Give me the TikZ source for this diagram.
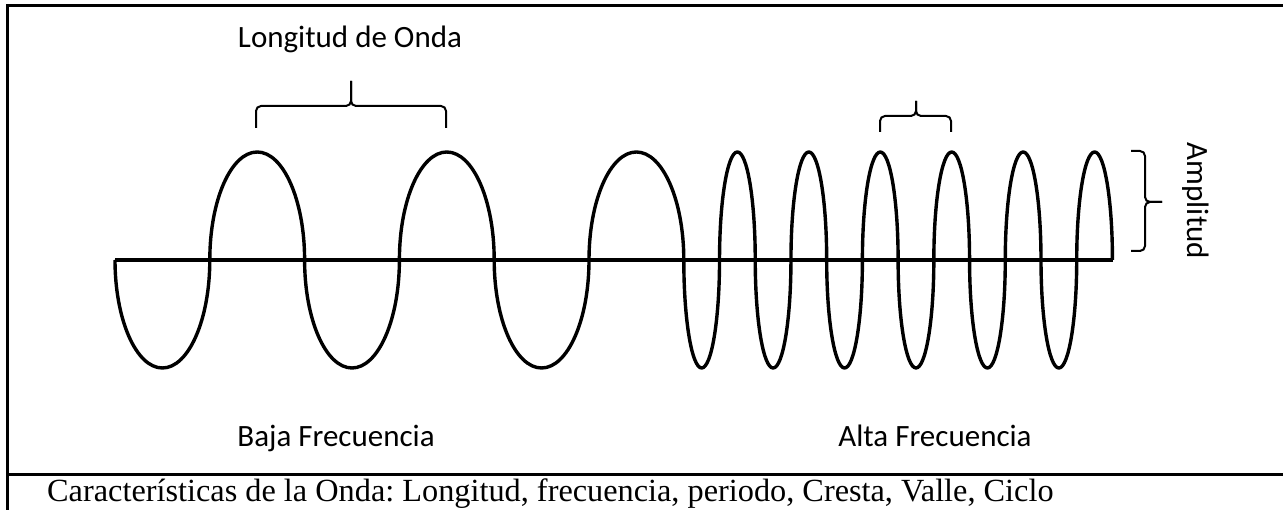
\documentclass[tikz,border=0pt]{standalone}
\usepackage{fontspec}
\setmainfont{Liberation Serif}
\newfontfamily\labelfont{Carlito}
\frenchspacing
\begin{document}
\begin{tikzpicture}[x=1pt, y=1pt,
    wave/.style={line width=3.4pt, line join=round},
    bracket/.style={line width=2pt, rounded corners=5pt},
    frame/.style={line width=3pt},
    lbl/.style={font=\labelfont\fontsize{31}{36}\selectfont, inner sep=0pt}]
  \useasboundingbox (0,0) rectangle (1283,510);

  % Frame of the cell
  \draw[frame] (1283,504) -- (7,504) -- (7,0);
  \draw[frame] (7,35) -- (1283,35);

  % Axis
  \coordinate (start) at (115,250);
  \coordinate (stop) at (1112.5,250);
  \draw[wave] (start) -- (stop);

  % Low frequency: three cycles
  \draw[wave] (start) \foreach \i in {1,2,3} {
      arc[start angle=180, end angle=360, x radius=47.4, y radius=108]
      arc[start angle=180, end angle=0, x radius=47.4, y radius=108]};

  % High frequency: six cycles
  \draw[wave] (683.8,250) \foreach \i in {1,...,6} {
      arc[start angle=180, end angle=360, x radius=17.86, y radius=108]
      arc[start angle=180, end angle=0, x radius=17.86, y radius=108]};

  % Wavelength brackets
  \draw[bracket] (256,382) |- (351,404) -- (351,429);
  \draw[bracket] (446,382) |- (351,404) -- (351,429);
  \draw[bracket] (880,378) |- (916,394) -- (916,409);
  \draw[bracket] (951,378) |- (916,394) -- (916,409);

  % Amplitude bracket
  \draw[bracket] (1131,359) -| (1145,308) -- (1162,308);
  \draw[bracket] (1131,259) -| (1145,308) -- (1162,308);

  % Labels
  \node[lbl, anchor=base] (longitud) at (350,462) {Longitud de Onda};
  \node[lbl, anchor=base] (baja) at (336,63) {Baja Frecuencia};
  \node[lbl, anchor=base] (alta) at (935,63) {Alta Frecuencia};
  \node[lbl, rotate=-90] (amplitud) at (1196,309) {Amplitud};

  % Caption
  \node[font=\fontsize{32.3}{36}\selectfont, anchor=base west, inner sep=0pt] (caption) at (47,8)
    {Características de la Onda: Longitud, frecuencia, periodo, Cresta, Valle, Ciclo};
\end{tikzpicture}
\end{document}
